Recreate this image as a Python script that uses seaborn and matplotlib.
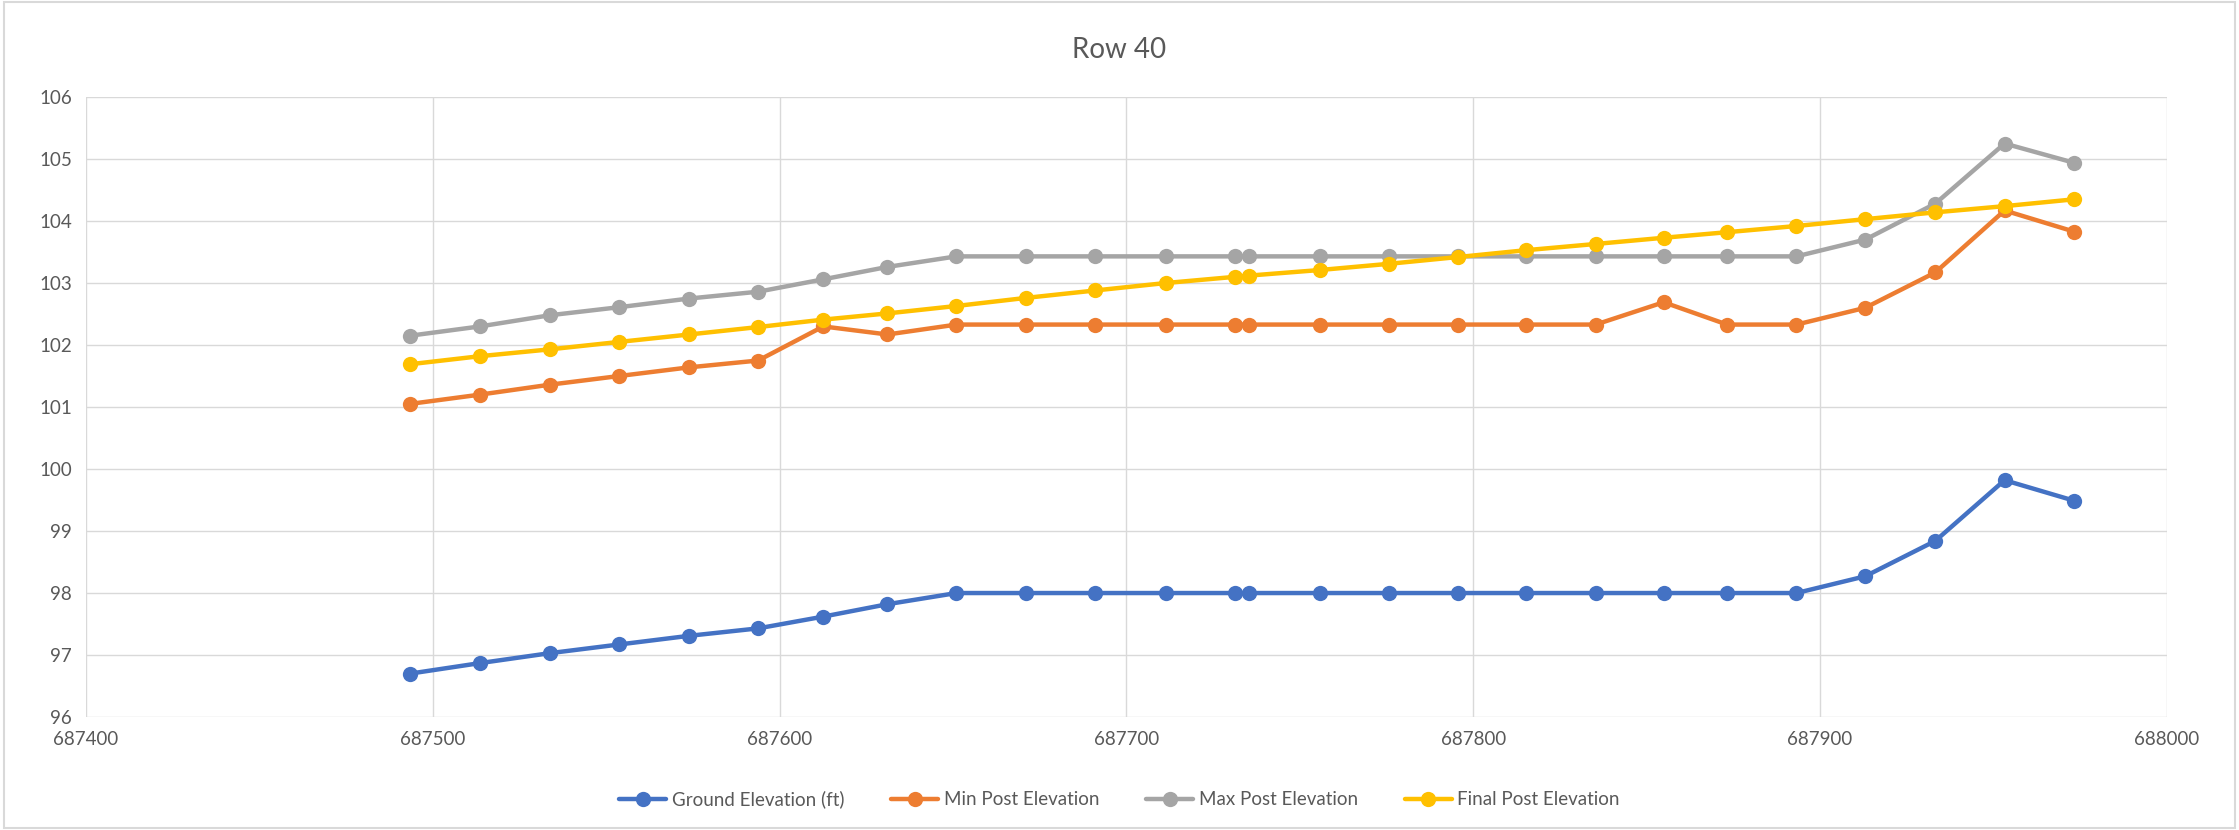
import matplotlib
matplotlib.use("Agg")
import matplotlib.pyplot as plt
import seaborn as sns
import pandas as pd
from matplotlib.patches import Rectangle

# ---- data ----
x_vals = [687493.4, 687513.6, 687533.7, 687553.7, 687573.9, 687593.8, 687612.6, 687631.1,
          687651.0, 687671.0, 687691.0, 687711.3, 687731.3, 687735.4, 687755.8, 687775.7,
          687795.7, 687815.3, 687835.3, 687854.9, 687873.2, 687893.2, 687913.0, 687933.2,
          687953.2, 687973.2]
ground = [96.70, 96.87, 97.03, 97.17, 97.31, 97.43, 97.62, 97.82,
          98.0, 98.0, 98.0, 98.0, 98.0, 98.0, 98.0, 98.0, 98.0, 98.0, 98.0, 98.0, 98.0, 98.0,
          98.27, 98.84, 99.82, 99.49]
min_post = [101.05, 101.20, 101.36, 101.50, 101.64, 101.75, 102.30, 102.17,
            102.33, 102.33, 102.33, 102.33, 102.33, 102.33, 102.33, 102.33, 102.33, 102.33, 102.33,
            102.69, 102.33, 102.33, 102.60, 103.17, 104.17, 103.83]
max_post = [102.15, 102.30, 102.48, 102.61, 102.75, 102.86, 103.06, 103.26,
            103.43, 103.43, 103.43, 103.43, 103.43, 103.43, 103.43, 103.43, 103.43, 103.43, 103.43,
            103.43, 103.43, 103.43, 103.70, 104.28, 105.25, 104.94]
final_post = [101.69, 101.82, 101.93, 102.05, 102.17, 102.29, 102.41, 102.51, 102.63, 102.76,
              102.88, 103.00, 103.10, 103.12, 103.21, 103.31, 103.42, 103.53, 103.63, 103.73,
              103.82, 103.92, 104.03, 104.14, 104.24, 104.35]
series_names = ["Ground Elevation (ft)", "Min Post Elevation", "Max Post Elevation", "Final Post Elevation"]
colors = ["#4472C4", "#ED7D31", "#A5A5A5", "#FFC000"]
x_ticks = [687400, 687500, 687600, 687700, 687800, 687900, 688000]
y_ticks = [96, 97, 98, 99, 100, 101, 102, 103, 104, 105, 106]
title = "Row 40"

frames = []
for name, vals in zip(series_names, [ground, min_post, max_post, final_post]):
    frames.append(pd.DataFrame({"x": x_vals, "y": vals, "series": name}))
df = pd.concat(frames, ignore_index=True)

sns.set_theme(style="white")
plt.rcParams['font.family'] = ['Lato', 'DejaVu Sans']

fig = plt.figure(figsize=(22.39, 8.30), dpi=100)
ax = fig.add_axes([0.0384, 0.1361, 0.9294, 0.7470])

sns.lineplot(data=df, x="x", y="y", hue="series", hue_order=series_names,
             palette=colors, marker="o", markersize=11, markeredgewidth=0,
             linewidth=3.2, estimator=None, sort=False, ax=ax, legend=True)

ax.set_xlim(687400, 688000)
ax.set_ylim(96, 106)
ax.set_xticks(x_ticks)
ax.set_yticks(y_ticks)
ax.set_xticklabels([str(t) for t in x_ticks])
ax.set_yticklabels([str(t) for t in y_ticks])
ax.grid(True, color="#D9D9D9", linewidth=1.0)
ax.set_axisbelow(True)
for s in ax.spines.values():
    s.set_visible(False)
ax.tick_params(axis="both", length=0, labelsize=13.5, colors="#595959", pad=10)
ax.set_xlabel("")
ax.set_ylabel("")

handles, labels = ax.get_legend_handles_labels()
ax.legend_.remove()
fig.legend(handles, labels, loc="center", bbox_to_anchor=(0.5, 0.037), ncol=4,
           frameon=False, fontsize=13.5, handlelength=2.5, columnspacing=2.5,
           labelcolor="#595959", handletextpad=0.3)

fig.text(0.5, 0.94, title, ha="center", va="center", fontsize=20, color="#595959")

fig.patches.append(Rectangle((0.002, 0.003), 0.996, 0.994, transform=fig.transFigure,
                             fill=False, edgecolor="#D9D9D9", linewidth=1.5))

fig.savefig("out.png", dpi=100)
